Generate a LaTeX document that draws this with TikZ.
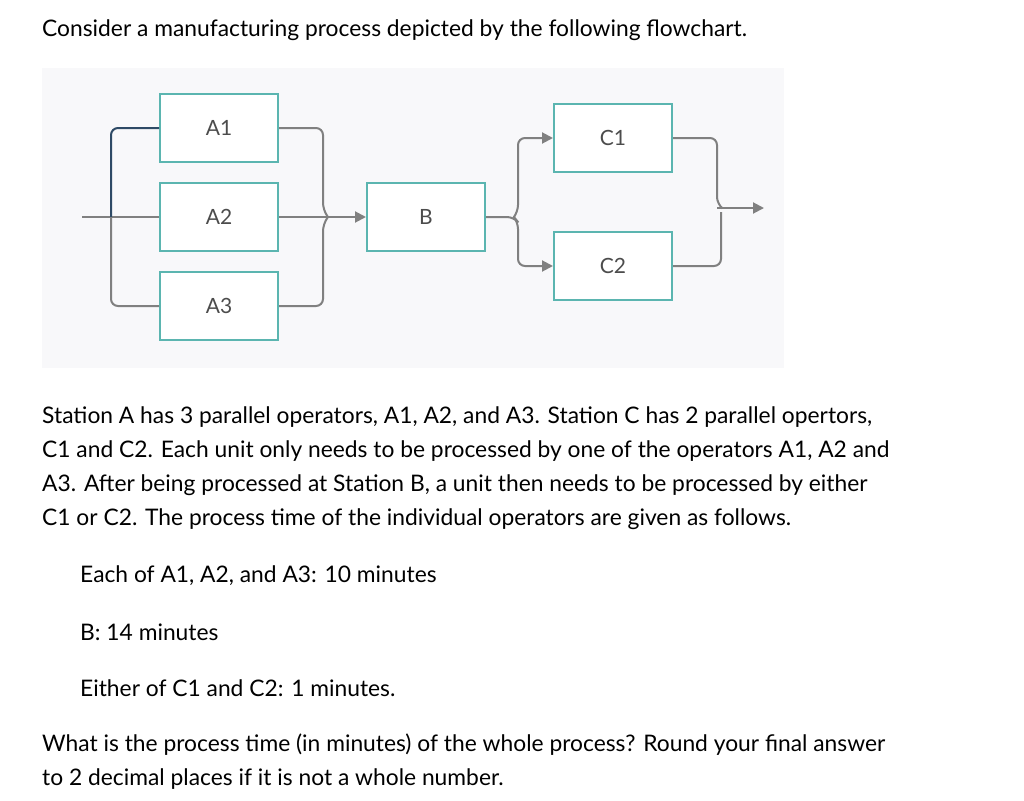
\documentclass[tikz,border=0pt]{standalone}
\usepackage{fontspec}
\setmainfont{Lato}
\usetikzlibrary{arrows.meta}
\definecolor{bg}{HTML}{F8F8FA}
\definecolor{teal}{HTML}{5BB5B0}
\definecolor{ln}{HTML}{808080}
\definecolor{dk}{HTML}{2E4A66}
\begin{document}
\begin{tikzpicture}[x=1pt,y=-1pt,
  box/.style={draw=teal,line width=2pt,fill=white,minimum width=118pt,minimum height=68pt,inner sep=0pt,font=\fontsize{21}{24}\selectfont,text=black!70},
  con/.style={draw=ln,line width=2pt,rounded corners=7pt},
  arr/.style={-{Triangle[length=11pt,width=11pt]}},
  txt/.style={anchor=west,inner sep=0pt,font=\fontsize{22.8}{26}\selectfont}]
\useasboundingbox (0,0) rectangle (1024,800);
\fill[bg] (42,68) rectangle (784,368);
\node[box] (A1) at (219,128) {A1};
\node[box] (A2) at (219,217) {A2};
\node[box] (A3) at (219,306) {A3};
\node[box] (B) at (426,217) {B};
\node[box] (C1) at (613,138) {C1};
\node[box] (C2) at (613,266) {C2};
\coordinate (in) at (82,217);
\coordinate (out) at (764,208);
\draw[con] (in) -- (A2.west);
\draw[con,draw=dk] (111,217) |- (A1.west);
\draw[con] (111,217) |- (A3.west);
\draw[con,arr] (A2.east) -- (B.west);
\draw[con] (A1.east) -| (323,210) -- (328,217);
\draw[con] (A3.east) -| (323,224) -- (328,217);
\draw[con,arr] (B.east) -- (514,217) -- (518,222) |- (C2.west);
\draw[con,arr] (514,217) -- (518,212) |- (C1.west);
\draw[con] (C1.east) -| (717,204) -- (722,208);
\draw[con] (C2.east) -| (721,212);
\draw[con,arr] (717,208) -- (out);
\node[txt] (t0) at (42,30) {Consider a manufacturing process depicted by the following flowchart.};
\node[txt] (t1) at (42,417) {Station A has 3 parallel operators, A1, A2, and A3. Station C has 2 parallel opertors,};
\node[txt] (t2) at (42,451) {C1 and C2. Each unit only needs to be processed by one of the operators A1, A2 and};
\node[txt] (t3) at (42,485) {A3. After being processed at Station B, a unit then needs to be processed by either};
\node[txt] (t4) at (42,519) {C1 or C2. The process time of the individual operators are given as follows.};
\node[txt] (t5) at (80,576) {Each of A1, A2, and A3: 10 minutes};
\node[txt] (t6) at (80,632) {B: 14 minutes};
\node[txt] (t7) at (80,688) {Either of C1 and C2: 1 minutes.};
\node[txt] (t8) at (42,745) {What is the process time (in minutes) of the whole process? Round your final answer};
\node[txt] (t9) at (42,779) {to 2 decimal places if it is not a whole number.};
\end{tikzpicture}
\end{document}
